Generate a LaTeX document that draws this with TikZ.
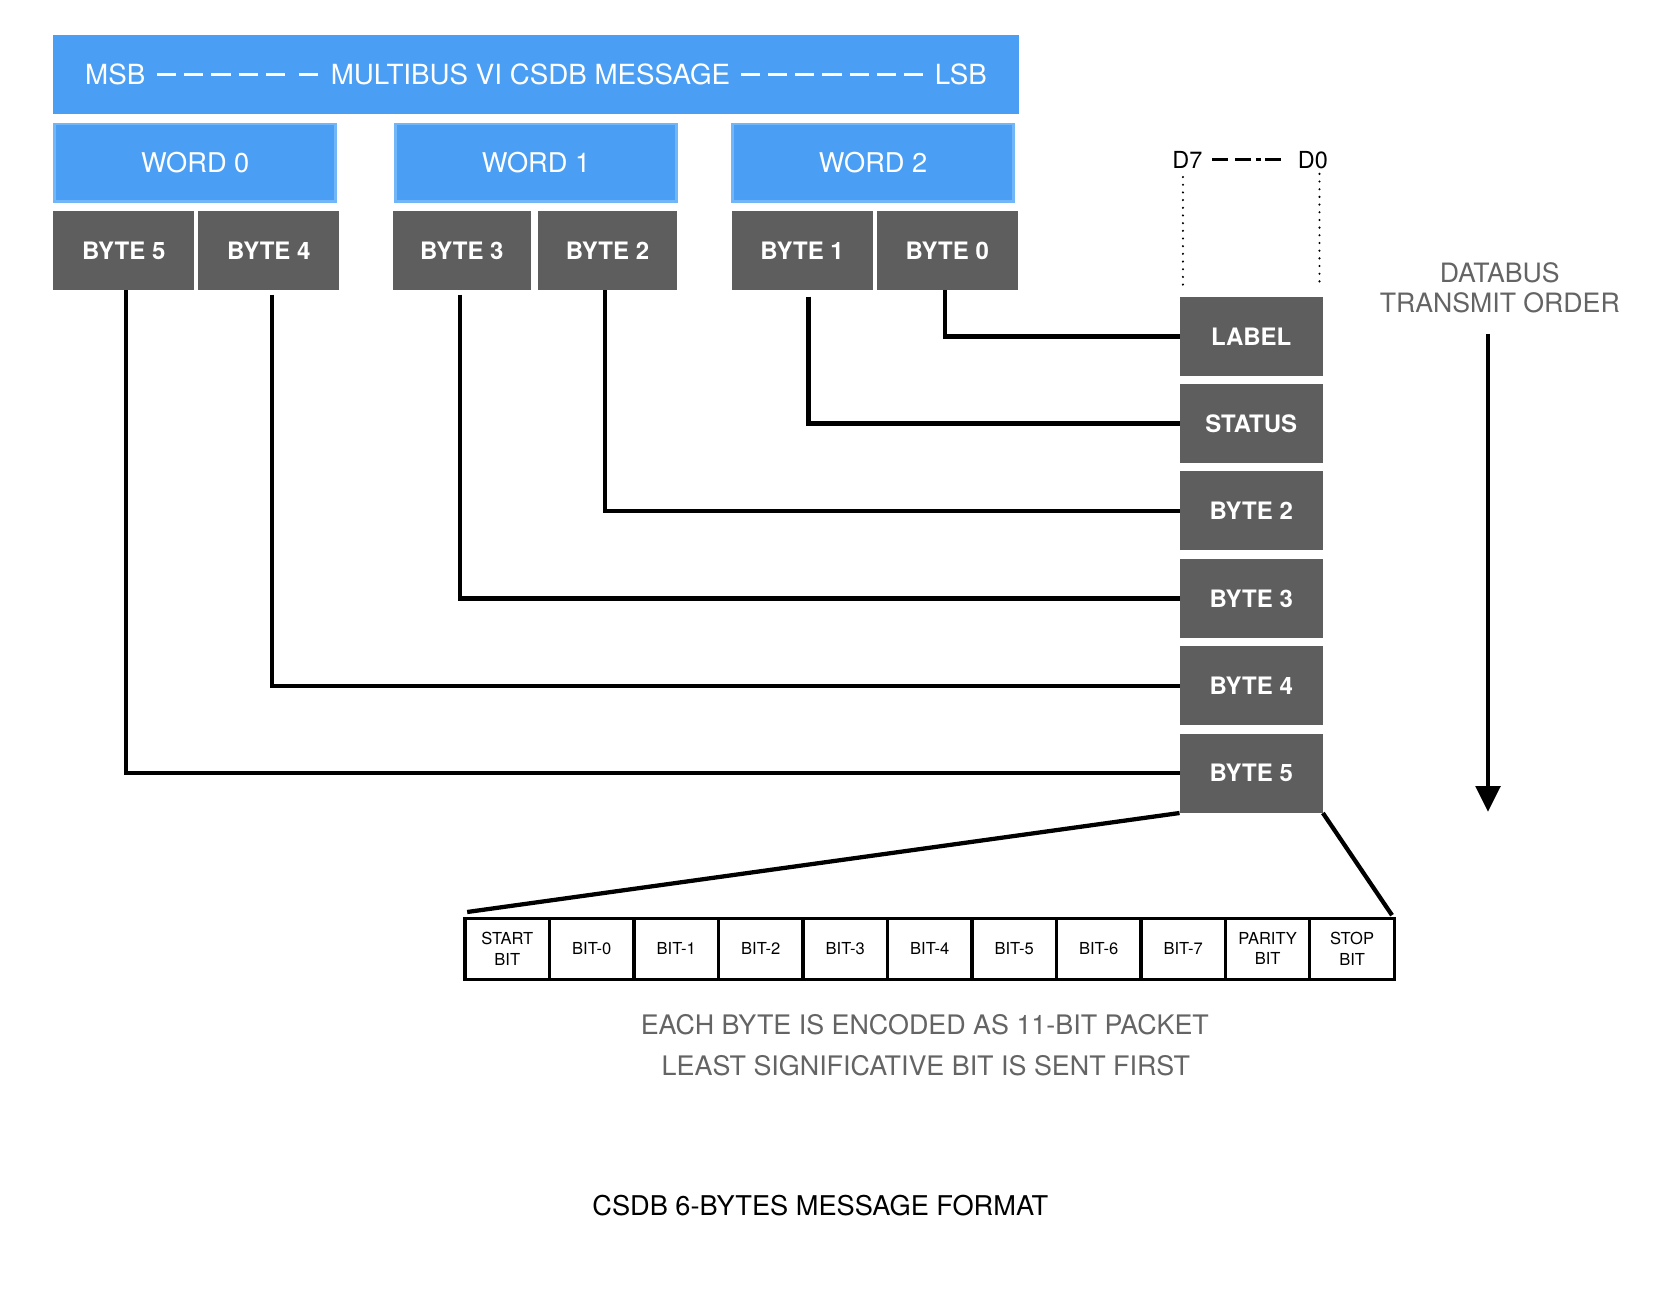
\documentclass[tikz,border=0pt]{standalone}
\usepackage{fontspec}
\setmainfont{TeX Gyre Heros}
\usetikzlibrary{arrows.meta}
\definecolor{bblue}{RGB}{74,159,245}
\definecolor{wblue}{RGB}{112,182,248}
\definecolor{dgray}{RGB}{94,94,94}
\definecolor{tgray}{RGB}{100,100,100}
\newcommand\tdash{\rule[8.6pt]{18pt}{2.2pt}}
\newcommand\tgap{\hspace{7.5pt}}
\newcommand\ddash{\rule[7.3pt]{15pt}{2pt}}
\newcommand\dhyph{\rule[7.3pt]{4.5pt}{2pt}}
\begin{document}
\begin{tikzpicture}[x=1pt,y=-1pt,
  topbar/.style={fill=bblue,text=white,minimum width=905pt,minimum height=74pt,inner sep=0pt,font=\fontsize{26}{30}\selectfont},
  wordbox/.style={fill=bblue,draw=wblue,line width=2.5pt,text=white,minimum width=263.5pt,minimum height=72.5pt,inner sep=0pt,font=\fontsize{25.5}{30}\selectfont},
  bytebox/.style={fill=dgray,text=white,minimum width=132pt,minimum height=74pt,inner sep=0pt,font=\fontsize{22.5}{26}\selectfont\bfseries},
  rbox/.style={bytebox,minimum width=134pt},
  conn/.style={line width=4pt},
  fan/.style={line width=4pt},
  bitcell/.style={draw=black,line width=3pt,minimum width=79.2pt,minimum height=57pt,inner sep=0pt,align=center,font=\fontsize{15.5}{19}\selectfont},
  note/.style={text=tgray,font=\fontsize{25.2}{30}\selectfont},
  dotline/.style={line width=2.2pt,line cap=round,dash pattern=on 0pt off 7.2pt}
]
\useasboundingbox (0,0) rectangle (1567.5,1211.3);

% top message bar
\node[topbar] (msg) at (502.5,70) {MSB\hspace{11pt}\tdash\tgap\tdash\tgap\tdash\tgap\tdash\tgap\tdash\hspace{13pt}\tdash\hspace{12pt}MULTIBUS VI CSDB MESSAGE\hspace{10pt}\tdash\tgap\tdash\tgap\tdash\tgap\tdash\tgap\tdash\tgap\tdash\tgap\tdash\hspace{11pt}LSB};

% words
\node[wordbox] (w0) at (183,152.5) {WORD 0};
\node[wordbox] (w1) at (502.5,152.5) {WORD 1};
\node[wordbox] (w2) at (818.5,152.5) {WORD 2};

% bytes
\node[bytebox] (b5) at (116,235) {BYTE 5};
\node[bytebox] (b4) at (252,235) {BYTE 4};
\node[bytebox,minimum width=130pt] (b3) at (433,235) {BYTE 3};
\node[bytebox,minimum width=131pt] (b2) at (569.5,235) {BYTE 2};
\node[bytebox] (b1) at (752,235) {BYTE 1};
\node[bytebox] (b0) at (888,235) {BYTE 0};

% transmit column
\node[rbox] (rl) at (1173,315.5) {LABEL};
\node[rbox] (rs) at (1173,397) {STATUS};
\node[rbox] (r2) at (1173,479) {BYTE 2};
\node[rbox] (r3) at (1173,561) {BYTE 3};
\node[rbox] (r4) at (1173,643) {BYTE 4};
\node[rbox] (r5) at (1173,725) {BYTE 5};

% connectors
\draw[conn] ([xshift=-2pt]b0.south) |- (rl.west);
\draw[conn] ([xshift=6pt,yshift=-6pt]b1.south) |- (rs.west);
\draw[conn] ([xshift=-2.5pt]b2.south) |- (r2.west);
\draw[conn] ([xshift=-2pt,yshift=-4pt]b3.south) |- (r3.west);
\draw[conn] ([xshift=3pt,yshift=-4pt]b4.south) |- (r4.west);
\draw[conn] ([xshift=2pt]b5.south) |- (r5.west);

% D7 -- D0
\node[font=\fontsize{22}{26}\selectfont] (dlab) at (1172,150) {D7\hspace{9pt}\ddash\hspace{7pt}\ddash\hspace{4pt}\dhyph\hspace{4pt}\ddash\hspace{16pt}D0};
\coordinate (d7top) at (1109,166);
\coordinate (d7bot) at (1109,270);
\coordinate (d0top) at (1237,163);
\coordinate (d0bot) at (1237,268);
\draw[dotline] (d7top) -- (d7bot);
\draw[dotline] (d0top) -- (d0bot);

% databus transmit order
\node[text=tgray,align=center,font=\fontsize{25}{28}\selectfont] (dbus) at (1406,270) {DATABUS\\TRANSMIT ORDER};
\coordinate (arrTop) at (1395,313);
\coordinate (arrBot) at (1395,761);
\draw[line width=3.5pt,-{Triangle[width=23pt,length=24pt]}] (arrTop) -- (arrBot);

% bit cells
\node[bitcell] (c0) at (475.6,889.5) {START\\BIT};
\node[bitcell] (c1) at (554.8,889.5) {BIT-0};
\node[bitcell] (c2) at (634.0,889.5) {BIT-1};
\node[bitcell] (c3) at (713.2,889.5) {BIT-2};
\node[bitcell] (c4) at (792.4,889.5) {BIT-3};
\node[bitcell] (c5) at (871.6,889.5) {BIT-4};
\node[bitcell] (c6) at (950.8,889.5) {BIT-5};
\node[bitcell] (c7) at (1030.0,889.5) {BIT-6};
\node[bitcell] (c8) at (1109.2,889.5) {BIT-7};
\node[bitcell] (c9) at (1188.4,889.5) {PARITY\\BIT};
\node[bitcell] (c10) at (1267.6,889.5) {STOP\\BIT};

% fan lines
\coordinate (fanL) at (438,855);
\coordinate (fanR) at (1305,858);
\draw[fan] (r5.south west) -- (fanL);
\draw[fan] (r5.south east) -- (fanR);

% notes
\node[note] (n1) at (867,961) {EACH BYTE IS ENCODED AS 11-BIT PACKET};
\node[note] (n2) at (868,999) {LEAST SIGNIFICATIVE BIT IS SENT FIRST};

\node[font=\fontsize{25.5}{30}\selectfont] (cap) at (769,1130) {CSDB 6-BYTES MESSAGE FORMAT};
\end{tikzpicture}
\end{document}
